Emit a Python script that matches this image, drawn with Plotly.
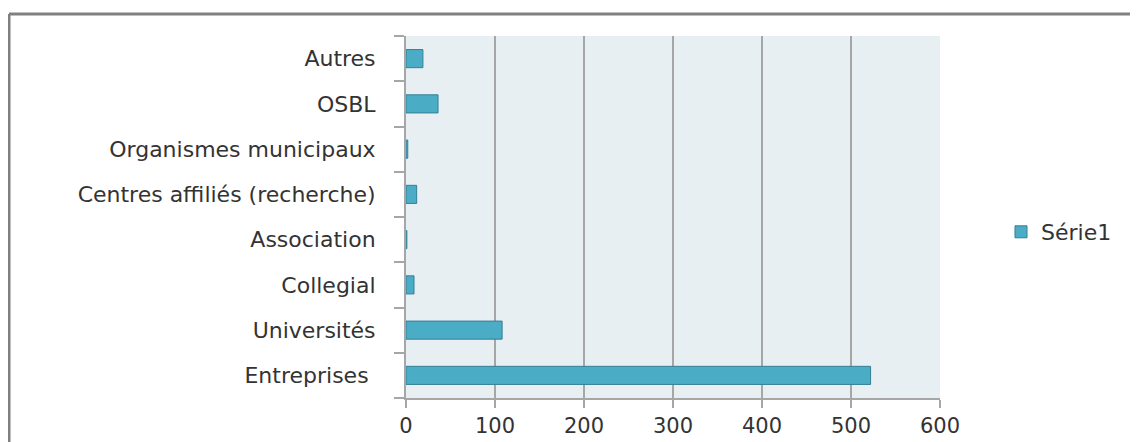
import plotly.graph_objects as go

categories = [
    "Entreprises ",
    "Universités",
    "Collegial",
    "Association",
    "Centres affiliés (recherche)",
    "Organismes municipaux",
    "OSBL",
    "Autres",
]
values = [522, 108, 9, 1, 12, 2, 36, 19]
series_name = "Série1"
x_ticks = [0, 100, 200, 300, 400, 500, 600]

# page body has an 8px margin, so work in page pixels and shift
OFF = 8
W, H = 1138 - OFF, 442 - OFF
L, R, T, B = 406 - OFF, 1138 - 940, 36 - OFF, 442 - 398
pw, ph = W - L - R, H - T - B


def px(x):
    return (x - OFF - L) / pw


def py(y):
    return (H - B - (y - OFF)) / ph


font = dict(family="DejaVu Sans", size=22, color="#333333")
xfont = dict(family="DejaVu Sans", size=21, color="#333333")

fig = go.Figure(
    go.Bar(
        y=categories,
        x=values,
        orientation="h",
        name=series_name,
        width=0.4,
        marker=dict(color="#4BACC6", line=dict(color="#357F96", width=1)),
        showlegend=True,
    )
)

fig.update_layout(
    width=W,
    height=H,
    margin=dict(l=L, r=R, t=T, b=B),
    paper_bgcolor="white",
    plot_bgcolor="#E8EFF3",
    font=font,
    legend=dict(
        x=px(1001),
        y=py(232),
        xanchor="left",
        yanchor="middle",
        font=font,
        bgcolor="rgba(0,0,0,0)",
    ),
    xaxis=dict(
        range=[0, 600],
        tickvals=x_ticks,
        automargin=False,
        showgrid=True,
        gridcolor="#A6A6A6",
        gridwidth=2,
        zeroline=False,
        showline=True,
        linecolor="#A6A6A6",
        linewidth=2,
        ticks="outside",
        ticklen=8,
        tickwidth=2,
        tickcolor="#A6A6A6",
        tickfont=xfont,
        ticklabelstandoff=0,
    ),
    yaxis=dict(
        type="category",
        categoryorder="array",
        categoryarray=categories,
        automargin=False,
        tickson="boundaries",
        ticks="outside",
        ticklen=10,
        tickwidth=2,
        tickcolor="#A6A6A6",
        showgrid=False,
        showline=True,
        linecolor="#A6A6A6",
        linewidth=2,
        tickfont=font,
        ticklabelstandoff=24,
    ),
    shapes=[
        dict(type="line", xref="paper", yref="paper",
             x0=px(9), x1=px(1138 + 20), y0=py(14), y1=py(14),
             line=dict(color="#808080", width=3)),
        dict(type="line", xref="paper", yref="paper",
             x0=px(9), x1=px(9), y0=py(14), y1=py(442 + 20),
             line=dict(color="#808080", width=3)),
    ],
)

fig.write_html("out.html")
